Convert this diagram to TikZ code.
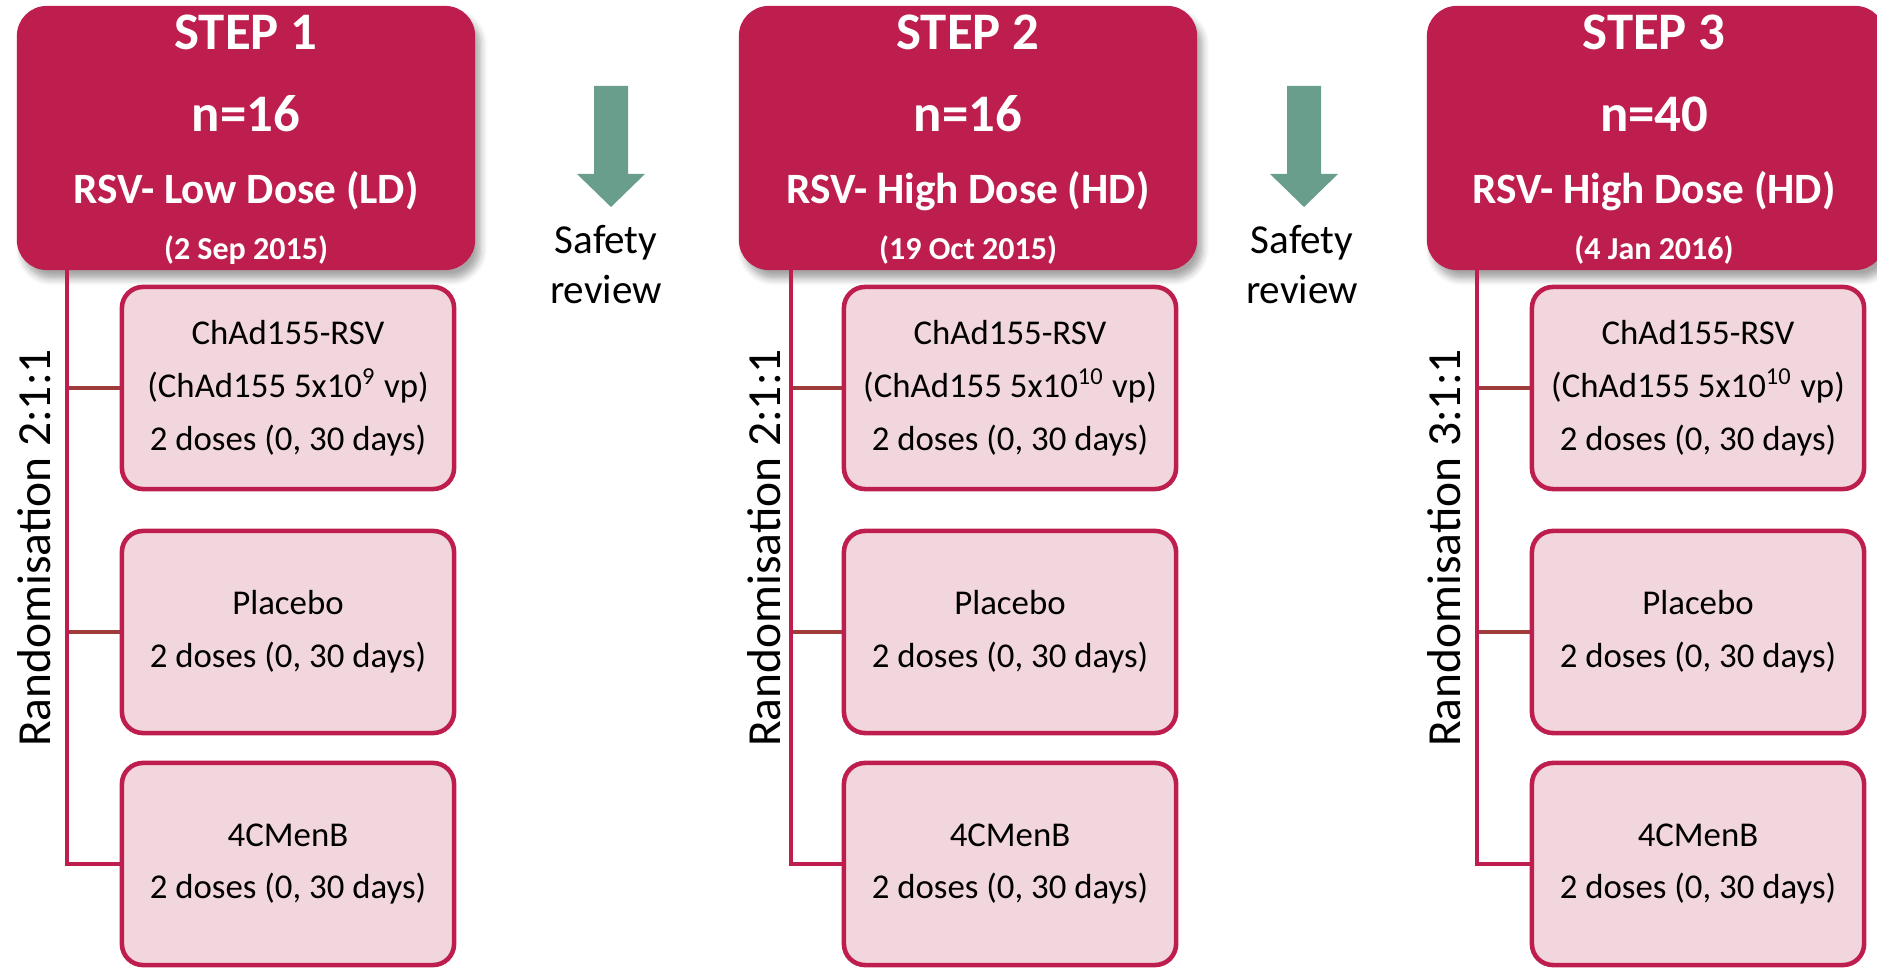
\documentclass[tikz,border=0pt]{standalone}
\usepackage{fontspec}
\setmainfont{Carlito}
\usetikzlibrary{shadows.blur}
\definecolor{crim}{HTML}{BE1E4D}
\definecolor{pinkfill}{HTML}{F2D6DD}
\definecolor{arrowgreen}{HTML}{6A9E8C}
\definecolor{branchbrown}{HTML}{9E3B3B}
\begin{document}
\begin{tikzpicture}[x=0.01cm,y=-0.01cm,
  header/.style={fill=crim, rounded corners=8.5pt, minimum width=4.58cm, minimum height=2.64cm, inner sep=0pt,
    blur shadow={shadow xshift=1.5pt, shadow yshift=-2.5pt, shadow blur steps=6, shadow opacity=35}},
  htitle/.style={anchor=base, text=white, font=\bfseries\fontsize{15}{17}\selectfont, inner sep=0pt},
  hdose/.style={anchor=base, text=white, font=\bfseries\fontsize{12.3}{14}\selectfont, inner sep=0pt},
  hdate/.style={anchor=base, text=white, font=\bfseries\fontsize{9.1}{11}\selectfont, inner sep=0pt},
  armbox/.style={draw=crim, line width=1.3pt, fill=pinkfill, rounded corners=6pt, minimum width=3.32cm,
    minimum height=2.02cm, inner sep=0pt, align=center, font=\fontsize{9.9}{15}\selectfont},
  vline/.style={draw=crim, line width=1.2pt},
  branch/.style={draw=branchbrown, line width=1.2pt},
  randlabel/.style={rotate=90, anchor=base, inner sep=0pt, font=\fontsize{13.5}{16}\selectfont},
  safety/.style={align=center, inner sep=0pt, font=\fontsize{11.7}{14.2}\selectfont},
  arrowfill/.style={fill=arrowgreen}
]
\useasboundingbox (0,0) rectangle (1877,968);

% ---------- headers ----------
\node[header] (h1) at (246,138) {};
\node[header] (h2) at (968,138) {};
\node[header] (h3) at (1656,138) {};

\node[htitle] (h1a) at (246,50) {STEP 1};
\node[htitle] (h1b) at (246,132) {n=16};
\node[hdose]  (h1c) at (246,204) {RSV- Low Dose (LD)};
\node[hdate]  (h1d) at (246,260) {(2 Sep 2015)};

\node[htitle] (h2a) at (968,50) {STEP 2};
\node[htitle] (h2b) at (968,132) {n=16};
\node[hdose]  (h2c) at (968,204) {RSV- High Dose (HD)};
\node[hdate]  (h2d) at (968,260) {(19 Oct 2015)};

\node[htitle] (h3a) at (1654,50) {STEP 3};
\node[htitle] (h3b) at (1654,132) {n=40};
\node[hdose]  (h3c) at (1654,204) {RSV- High Dose (HD)};
\node[hdate]  (h3d) at (1654,260) {(4 Jan 2016)};

% ---------- arm boxes ----------
\node[armbox] (a1) at (288,388) {ChAd155-RSV\\(ChAd155 5x10\textsuperscript{9} vp)\\2 doses (0, 30 days)};
\node[armbox] (b1) at (288,632) {Placebo\\2 doses (0, 30 days)};
\node[armbox] (c1) at (288,864) {4CMenB\\2 doses (0, 30 days)};

\node[armbox] (a2) at (1010,388) {ChAd155-RSV\\(ChAd155 5x10\textsuperscript{10} vp)\\2 doses (0, 30 days)};
\node[armbox] (b2) at (1010,632) {Placebo\\2 doses (0, 30 days)};
\node[armbox] (c2) at (1010,864) {4CMenB\\2 doses (0, 30 days)};

\node[armbox] (a3) at (1698,388) {ChAd155-RSV\\(ChAd155 5x10\textsuperscript{10} vp)\\2 doses (0, 30 days)};
\node[armbox] (b3) at (1698,632) {Placebo\\2 doses (0, 30 days)};
\node[armbox] (c3) at (1698,864) {4CMenB\\2 doses (0, 30 days)};

% ---------- randomisation trees ----------
\coordinate (v1) at (67,270);
\coordinate (v2) at (791,270);
\coordinate (v3) at (1477,270);

\draw[branch] (v1 |- a1.west) -- (a1.west);
\draw[branch] (v1 |- b1.west) -- (b1.west);
\draw[vline] (v1) |- (c1.west);

\draw[branch] (v2 |- a2.west) -- (a2.west);
\draw[branch] (v2 |- b2.west) -- (b2.west);
\draw[vline] (v2) |- (c2.west);

\draw[branch] (v3 |- a3.west) -- (a3.west);
\draw[branch] (v3 |- b3.west) -- (b3.west);
\draw[vline] (v3) |- (c3.west);

\node[randlabel] (r1) at (50,548) {Randomisation 2:1:1};
\node[randlabel] (r2) at (780,548) {Randomisation 2:1:1};
\node[randlabel] (r3) at (1460,548) {Randomisation 3:1:1};

% ---------- safety review arrows ----------
\fill[arrowfill, shift={(611,86)}] (-17,0) -- (17,0) -- (17,88) -- (34,88) -- (0,121) -- (-34,88) -- (-17,88) -- cycle;
\fill[arrowfill, shift={(1304,86)}] (-17,0) -- (17,0) -- (17,88) -- (34,88) -- (0,121) -- (-34,88) -- (-17,88) -- cycle;

\node[safety] (s1) at (606,265) {Safety\\review};
\node[safety] (s2) at (1302,265) {Safety\\review};
\end{tikzpicture}
\end{document}
